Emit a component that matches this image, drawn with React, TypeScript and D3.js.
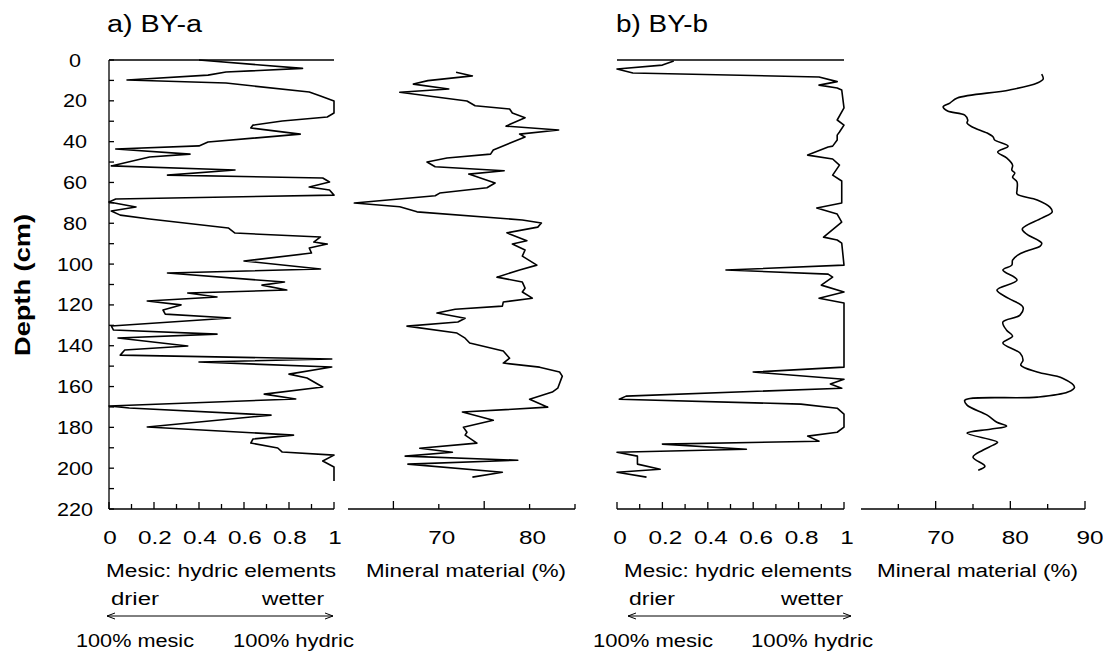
import * as d3 from "d3";

// BY-a, mesic : hydric ratio
const depthA1 = [0, 4.1, 5.9, 7.4, 9.8, 11.3, 15.7, 17.6, 20.1, 26, 27.9, 29.9, 31.9, 33.3, 36.3, 40.2, 42.1, 43.6, 46.1, 47.5, 51.9, 53.9, 56.4, 57.8, 59.8, 62.2, 63.7, 66.2, 68.1, 69.6, 72, 74, 76, 77.9, 82.3, 84.8, 86.7, 89.2, 90.2, 92.1, 94.6, 98.5, 102.4, 104.4, 108.8, 110.3, 112.7, 114.2, 116.1, 118.1, 120, 122.5, 124.5, 126.4, 130.3, 132.3, 134.3, 136.2, 140.1, 142.1, 144.6, 146.5, 148, 150.4, 153.9, 155.8, 160.2, 163.7, 166.1, 169.5, 170.5, 174, 179.8, 183.8, 185.7, 187.7, 190.1, 192.1, 193.6, 196.5, 199.4, 200.9, 206.3];
const hydricA = [0.4, 0.86, 0.52, 0.44, 0.08, 0.52, 0.89, 0.94, 1.0, 1.0, 0.97, 0.77, 0.64, 0.63, 0.85, 0.44, 0.4, 0.03, 0.36, 0.18, 0.01, 0.56, 0.26, 0.95, 0.98, 0.89, 0.98, 1.0, 0.03, 0.0, 0.12, 0.01, 0.05, 0.18, 0.53, 0.56, 0.94, 0.91, 0.97, 0.89, 0.9, 0.6, 0.94, 0.26, 0.78, 0.68, 0.79, 0.35, 0.48, 0.17, 0.32, 0.24, 0.25, 0.54, 0.01, 0.02, 0.48, 0.04, 0.35, 0.07, 0.05, 0.99, 0.4, 0.99, 0.8, 0.88, 0.95, 0.69, 0.83, 0.0, 0.09, 0.72, 0.17, 0.82, 0.64, 0.63, 0.75, 0.77, 1.0, 0.95, 1.0, 1.0, 1.0];

// BY-a, mineral material
const depthA2 = [6, 7.8, 10.1, 11.8, 14.2, 15.8, 20.1, 22.4, 24, 26, 28.3, 32.4, 34.3, 36.3, 37.7, 44.1, 46.1, 48, 50, 52.3, 54.3, 55.9, 60.3, 62.6, 65.2, 66.5, 70.1, 71.9, 74.4, 78.4, 79.9, 81.9, 84.7, 88.6, 90.2, 93.1, 96.1, 100.5, 102.9, 106.4, 108.8, 111.8, 113.7, 116.7, 118.6, 120.6, 122.1, 124, 126.5, 128.4, 130.4, 133.8, 136.3, 138.7, 142.6, 146.1, 148.5, 150.5, 152.9, 154.9, 160.8, 162.7, 166.2, 170.1, 172.5, 176.5, 179.9, 182.4, 183.8, 187.7, 190.2, 192.2, 194.1, 196.1, 198, 202, 204.4];
const mineralA = [71.9, 73.7, 68.8, 67.2, 71.1, 65.7, 73.1, 74.0, 77.8, 78.1, 79.5, 77.4, 83.2, 78.9, 79.5, 76.0, 75.7, 70.9, 68.7, 69.6, 77.2, 73.3, 76.2, 75.3, 70.1, 69.6, 60.7, 65.7, 67.6, 79.2, 81.3, 80.9, 77.5, 79.7, 78.1, 79.5, 79.2, 80.8, 78.9, 76.4, 79.2, 79.5, 79.2, 80.3, 77.1, 77.0, 71.8, 69.8, 72.9, 72.1, 66.5, 72.0, 72.9, 73.4, 77.1, 77.8, 77.1, 81.1, 83.3, 83.6, 83.1, 82.5, 80.0, 82.0, 72.6, 76.0, 72.7, 73.1, 72.9, 74.2, 67.9, 71.5, 66.3, 78.7, 66.6, 77.0, 73.7];

// BY-b, mesic : hydric ratio
const depthB1 = [0.5, 2.5, 4.4, 6.4, 8.3, 10.6, 12.3, 13.7, 14.7, 23.5, 29.4, 31.9, 35.3, 36.8, 39.2, 42.2, 42.6, 46.6, 48.5, 51.5, 56.4, 59.3, 70.1, 72.5, 75.5, 79.4, 86.8, 88.2, 89.7, 100.5, 102.9, 104.9, 106.4, 110.3, 113.7, 116.7, 119.1, 150.5, 152.9, 156.4, 158.8, 160.8, 164.7, 166.2, 168.6, 170.6, 173.5, 179.9, 182.4, 184.3, 186.8, 188.2, 190.7, 192.2, 194.1, 198, 200.5, 202, 204.4];
const hydricB = [0.25, 0.2, 0.0, 0.07, 0.89, 0.97, 0.89, 0.97, 0.99, 1.0, 0.97, 1.0, 0.98, 0.97, 0.97, 0.95, 0.93, 0.84, 0.95, 0.98, 0.95, 0.99, 0.99, 0.88, 0.97, 0.99, 0.91, 0.97, 0.99, 1.0, 0.48, 0.93, 0.95, 0.9, 1.0, 0.89, 1.0, 1.0, 0.6, 1.0, 0.94, 0.99, 0.04, 0.01, 0.81, 0.97, 1.0, 1.0, 0.97, 0.84, 0.89, 0.2, 0.57, 0.0, 0.09, 0.09, 0.19, 0.0, 0.13];

// BY-b, mineral material
const depthB2 = [6.9, 9.3, 11.3, 14.7, 18.6, 21.1, 23, 25, 27, 29.4, 30.9, 32.8, 35.8, 37.7, 39.2, 42.2, 45.1, 48, 51.5, 53.9, 55.4, 57.4, 59.8, 63.7, 65.7, 68.6, 72.1, 74.5, 77.5, 82.8, 85.3, 89.7, 91.2, 93.6, 95.6, 98, 100.5, 102.9, 107.8, 112.7, 116.7, 121.1, 125, 128.4, 132.4, 135.3, 138.7, 143.6, 147.1, 149.5, 152.9, 155.9, 160.3, 162.7, 165.2, 166.7, 169.1, 174, 177.5, 179.4, 180.9, 182.8, 187.3, 188.7, 191.2, 194.6, 199, 201];
const mineralB = [84.2, 84.4, 83.6, 79.9, 72.9, 71.9, 71.0, 71.6, 73.9, 74.3, 74.2, 74.9, 76.9, 77.7, 77.9, 79.7, 78.3, 79.5, 80.3, 80.2, 80.6, 80.3, 80.9, 80.9, 80.9, 83.6, 85.3, 85.6, 84.2, 81.6, 82.2, 84.2, 84.0, 82.2, 81.0, 80.3, 80.2, 79.0, 80.9, 78.2, 79.7, 81.7, 81.3, 79.0, 79.5, 80.3, 79.0, 81.3, 81.7, 81.4, 83.6, 87.0, 88.6, 87.7, 83.6, 73.9, 74.2, 76.9, 78.2, 79.5, 77.3, 74.2, 78.3, 77.7, 76.3, 75.0, 76.6, 75.7];

const depthTicks = d3.range(0, 221, 10);
const depthLabels = d3.range(0, 221, 20);
const ratioTicks = d3.range(0, 11).map((i) => i / 10);
const ratioLabels = ["0", "0.2", "0.4", "0.6", "0.8", "1"];
const mineralTicksA = [65, 70, 75, 80, 85];
const mineralLabelsA = [70, 80];
const mineralTicksB = [65, 70, 75, 80, 85, 90];
const mineralLabelsB = [70, 80, 90];

const FONT = "'Liberation Sans', Arial, Helvetica, sans-serif";

const W = 1103;
const H = 656;
const yTop = 60;
const yBot = 509;

const y = d3.scaleLinear().domain([0, 220]).range([yTop, yBot]);
const xA1 = d3.scaleLinear().domain([0, 1]).range([109, 334]);
const xA2 = d3.scaleLinear().domain([60, 85]).range([348, 575]);
const xB1 = d3.scaleLinear().domain([0, 1]).range([617, 844]);
const xB2 = d3.scaleLinear().domain([60, 90]).range([861, 1085]);

function makePath(xs, vals, depths, curve = d3.curveLinear) {
  const pts = depths.map((d, i) => [xs(vals[i]), y(d)]);
  return d3.line().curve(curve)(pts);
}

// stretched text, like the scan
function Wide({ x, yy, sx = 1.35, size = 17, anchor = "middle", children }) {
  return (
    <text
      transform={`translate(${x},${yy}) scale(${sx},1)`}
      fontSize={size}
      textAnchor={anchor}
      fill="#000"
    >
      {children}
    </text>
  );
}

function Fit({ x1, x2, yy, size = 18, children }) {
  return (
    <text
      x={x1}
      y={yy}
      fontSize={size}
      textLength={x2 - x1}
      lengthAdjust="spacingAndGlyphs"
      fill="#000"
    >
      {children}
    </text>
  );
}

function RatioAxis({ xs }) {
  return (
    <g stroke="#000" strokeWidth={1.3}>
      <line x1={xs(0)} x2={xs(1)} y1={yBot} y2={yBot} />
      {ratioTicks.map((t, i) => (
        <line key={i} x1={xs(t)} x2={xs(t)} y1={yBot} y2={yBot - (i % 2 === 0 ? 7 : 5)} />
      ))}
      <line x1={xs(0)} x2={xs(1)} y1={yTop} y2={yTop} />
    </g>
  );
}

function MineralAxis({ xs, ticks, tall }) {
  const [a, b] = xs.domain();
  return (
    <g stroke="#000" strokeWidth={1.3}>
      <line x1={xs(a)} x2={xs(b)} y1={yBot} y2={yBot} />
      {ticks.map((t) => (
        <line key={t} x1={xs(t)} x2={xs(t)} y1={yBot} y2={yBot - (tall.includes(t) ? 8 : 5)} />
      ))}
    </g>
  );
}

function BottomText({ mesic, drier, wetter, arrow, m100, h100, mineral }) {
  return (
    <g fontFamily={FONT}>
      <Fit x1={mesic[0]} x2={mesic[1]} yy={577}>Mesic: hydric elements</Fit>
      <Fit x1={mineral[0]} x2={mineral[1]} yy={577}>Mineral material (%)</Fit>
      <Fit x1={drier[0]} x2={drier[1]} yy={605}>drier</Fit>
      <Fit x1={wetter[0]} x2={wetter[1]} yy={605}>wetter</Fit>
      <line
        x1={arrow[0] + 1}
        x2={arrow[1] - 1}
        y1={616}
        y2={616}
        stroke="#000"
        strokeWidth={1}
        markerStart="url(#arrL)"
        markerEnd="url(#arrR)"
      />
      <Fit x1={m100[0]} x2={m100[1]} yy={647}>100% mesic</Fit>
      <Fit x1={h100[0]} x2={h100[1]} yy={647}>100% hydric</Fit>
    </g>
  );
}

export default function App() {
  const pathA1 = makePath(xA1, hydricA, depthA1);
  const pathA2 = makePath(xA2, mineralA, depthA2);
  const pathB1 = makePath(xB1, hydricB, depthB1);
  const pathB2 = makePath(xB2, mineralB, depthB2, d3.curveCatmullRom);

  return (
    <svg
      width={W}
      height={H}
      style={{ position: "absolute", left: 0, top: 0, background: "#fff" }}
      fontFamily={FONT}
    >
      <defs>
        <marker id="arrR" viewBox="0 0 8 8" refX="8" refY="4" markerWidth="8" markerHeight="8" markerUnits="userSpaceOnUse" orient="auto">
          <path d="M0,1 L8,4 L0,7" fill="none" stroke="#000" strokeWidth={1} />
        </marker>
        <marker id="arrL" viewBox="0 0 8 8" refX="0" refY="4" markerWidth="8" markerHeight="8" markerUnits="userSpaceOnUse" orient="auto">
          <path d="M8,1 L0,4 L8,7" fill="none" stroke="#000" strokeWidth={1} />
        </marker>
      </defs>
      <rect width={W} height={H} fill="#fff" />

      {/* titles */}
      <Fit x1={107} x2={202} yy={32} size={23}>a) BY-a</Fit>
      <Fit x1={616} x2={708} yy={32} size={23}>b) BY-b</Fit>

      {/* depth axis */}
      <g stroke="#000" strokeWidth={1.3}>
        <line x1={109} x2={109} y1={yTop} y2={yBot} />
        {depthTicks.map((t) => (
          <line key={t} x1={109} x2={114} y1={y(t)} y2={y(t)} />
        ))}
      </g>
      {depthLabels.map((t) => (
        <Wide key={t} x={75} yy={y(t) + 6.5} sx={1.2} size={18}>
          {t}
        </Wide>
      ))}
      <text
        transform={`translate(30,${285}) rotate(-90)`}
        fontSize={22}
        fontWeight="bold"
        textAnchor="middle"
        textLength={142}
        lengthAdjust="spacingAndGlyphs"
      >
        Depth (cm)
      </text>

      {/* axes */}
      <RatioAxis xs={xA1} />
      <RatioAxis xs={xB1} />
      <MineralAxis xs={xA2} ticks={mineralTicksA} tall={[65, 75]} />
      <MineralAxis xs={xB2} ticks={mineralTicksB} tall={[70, 80, 90]} />

      {/* tick labels */}
      {ratioLabels.map((l, i) => (
        <g key={"a" + l}>
          <Wide x={xA1(i * 0.2) + 1} yy={544} sx={1.35} size={18}>{l}</Wide>
          <Wide x={xB1(i * 0.2) + 3} yy={544} sx={1.35} size={18}>{l}</Wide>
        </g>
      ))}
      {mineralLabelsA.map((t) => (
        <Wide key={t} x={xA2(t) + 3} yy={544} sx={1.35} size={18}>{t}</Wide>
      ))}
      {mineralLabelsB.map((t) => (
        <Wide key={t} x={xB2(t) + 5} yy={544} sx={1.35} size={18}>{t}</Wide>
      ))}

      {/* data */}
      <g fill="none" stroke="#000" strokeWidth={1.6} strokeLinejoin="round">
        <path d={pathA1} />
        <path d={pathA2} />
        <path d={pathB1} />
        <path d={pathB2} />
      </g>

      <BottomText
        mesic={[106, 336]}
        mineral={[366, 566]}
        drier={[111, 159]}
        wetter={[262, 324]}
        arrow={[106, 334]}
        m100={[76, 194]}
        h100={[233, 354]}
      />
      <BottomText
        mesic={[624, 852]}
        mineral={[877, 1078]}
        drier={[629, 675]}
        wetter={[781, 843]}
        arrow={[627, 852]}
        m100={[593, 713]}
        h100={[751, 873]}
      />
    </svg>
  );
}
